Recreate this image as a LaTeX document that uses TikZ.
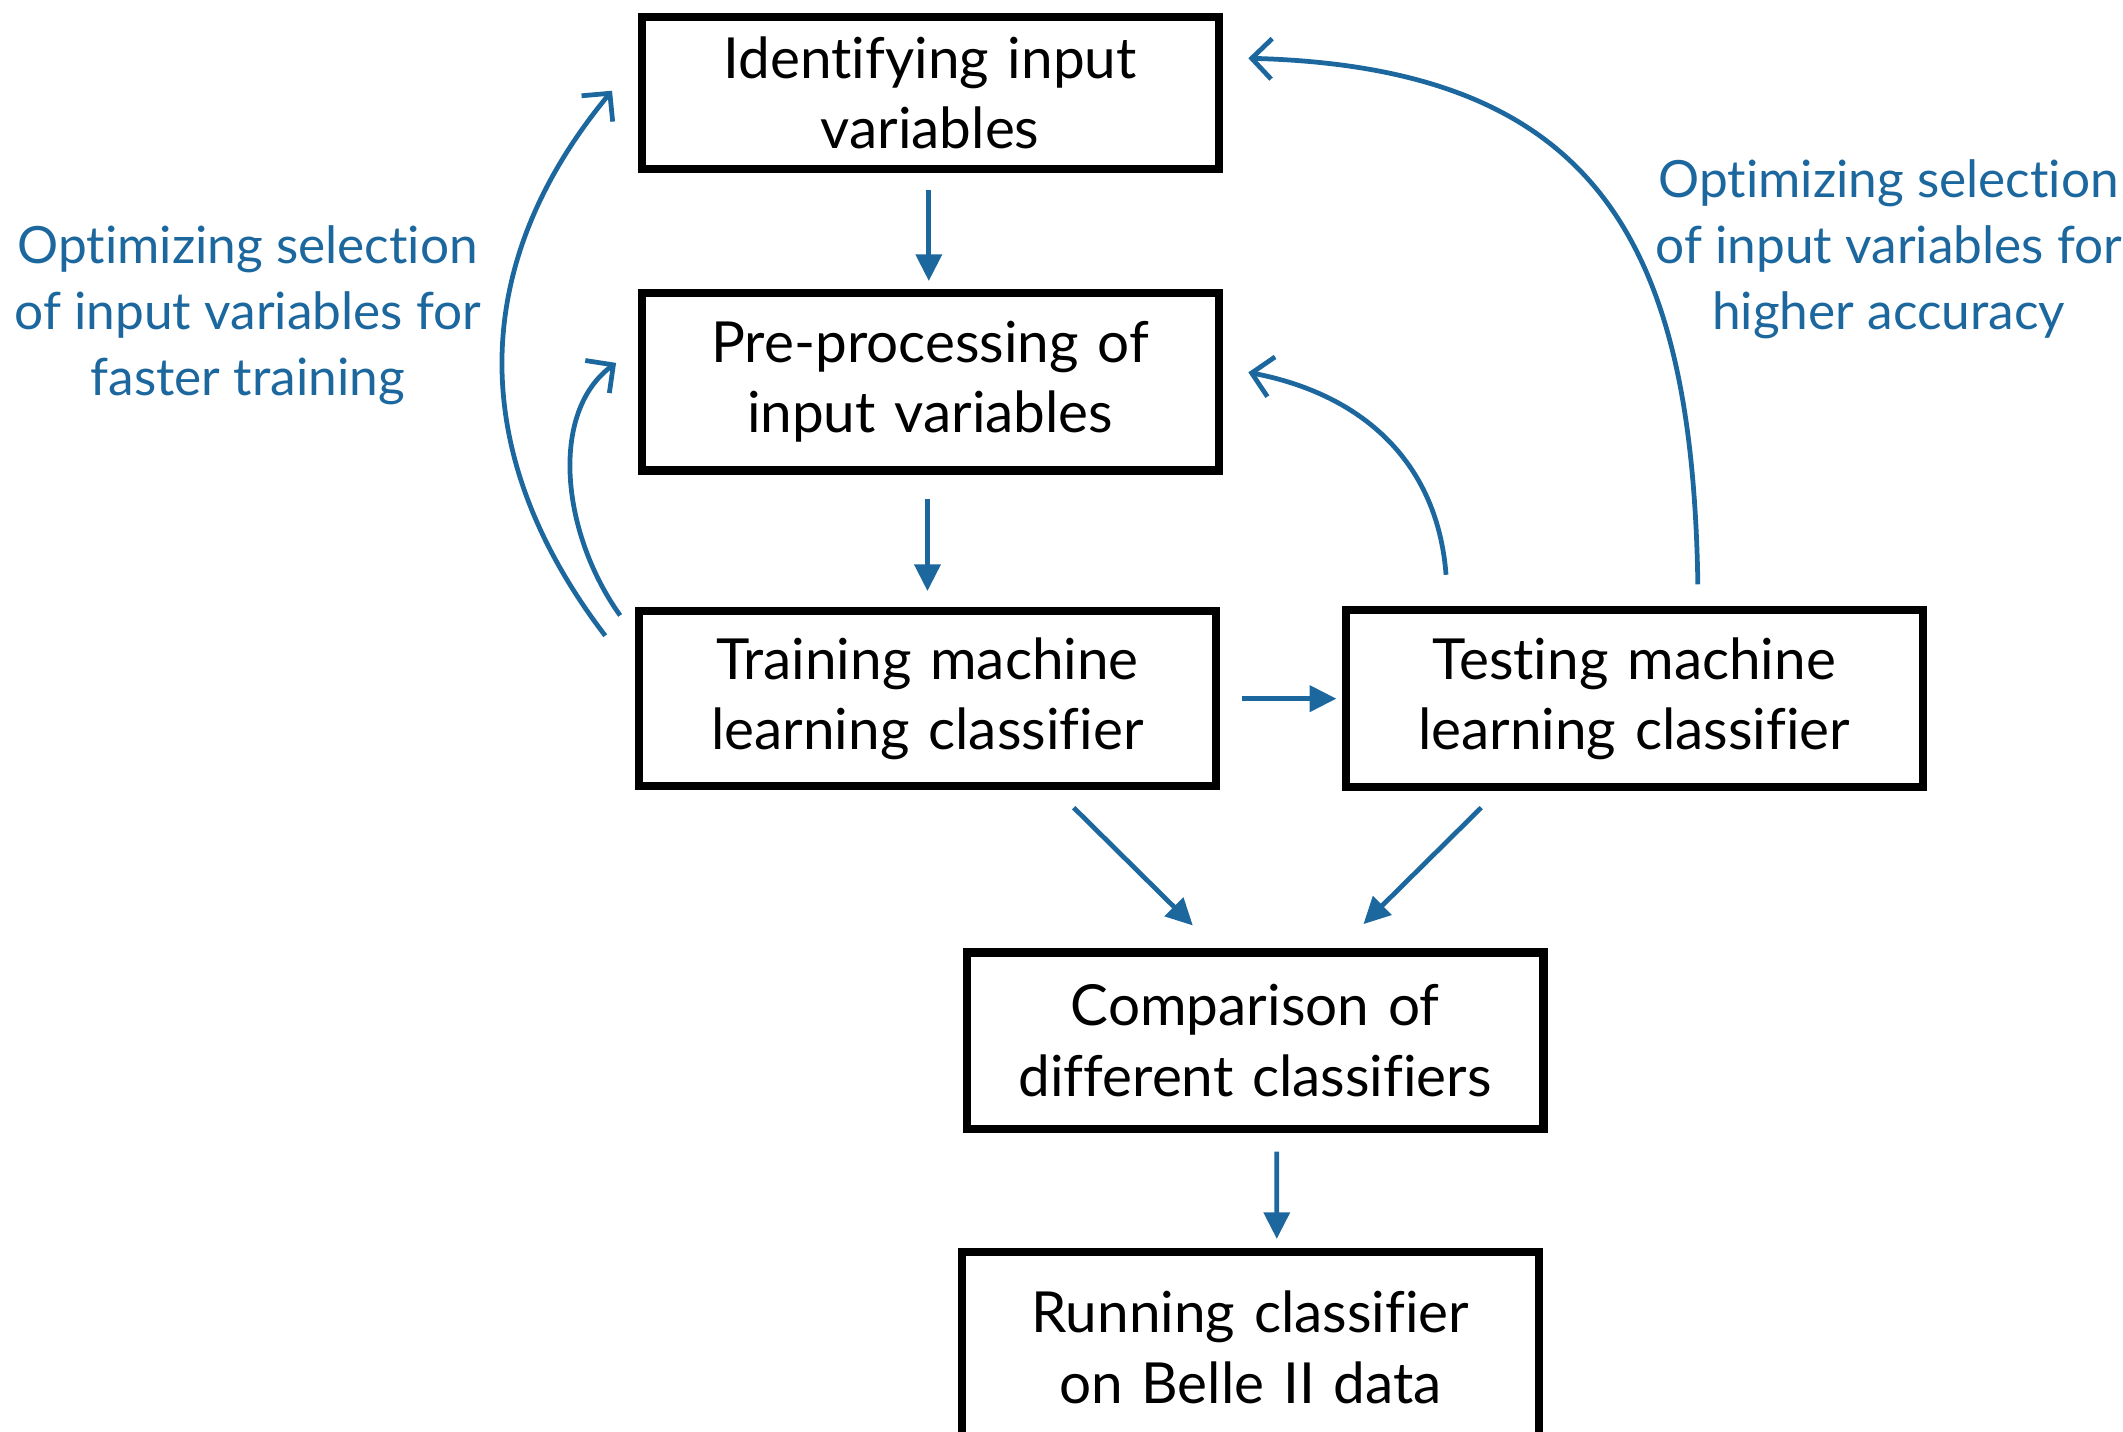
\documentclass[tikz,border=0pt]{standalone}
\usepackage{fontspec}
\setmainfont{Lato}[Ligatures={NoCommon}]
\usetikzlibrary{arrows.meta,calc}
\definecolor{flowblue}{RGB}{28,104,158}
\begin{document}
\begin{tikzpicture}[x=0.1mm,y=-0.1mm,
  stepbox/.style={draw=black,line width=1.7pt,rectangle,minimum width=42.6mm,
    minimum height=13mm,text width=40mm,align=center,inner sep=0pt,
    font=\fontsize{11.9}{14.8}\selectfont},
  flow/.style={draw=flowblue,line width=1pt,-{Triangle[length=5.6pt,width=5.4pt]}},
  loop/.style={draw=flowblue,line width=1pt,-{Straight Barb[length=4.2pt,width=8.5pt,line width=1pt]}},
  note/.style={text=flowblue,align=center,font=\fontsize{10.8}{13.9}\selectfont}]
\useasboundingbox (0,0) rectangle (1568,1057);

% process steps
\node[stepbox,minimum height=11.2mm] (id)    at (687,68.5) {Identifying input\\variables};
\node[stepbox,minimum height=13.1mm] (pre)   at (687,282)  {Pre-processing of\\input variables};
\node[stepbox,minimum height=12.9mm] (train) at (685,516)  {Training machine\\learning classifier};
\node[stepbox,minimum height=13.1mm] (test)  at (1207,516) {Testing machine\\learning classifier};
\node[stepbox,minimum height=13.0mm] (comp)  at (927,768.5){Comparison of\\different classifiers};
\node[stepbox,minimum height=14mm]   (run)   at (923.5,995){Running classifier\\on Belle II data};

% side notes
\node[note] (fast) at (183,233) {Optimizing selection\\of input variables for\\faster training};
\node[note] (acc)  at (1395,184) {Optimizing selection\\of input variables for\\higher accuracy};

% main flow
\draw[flow] ($(id.south)+(-1,13)$) -- ($(pre.north)+(-1,-6)$);
\draw[flow] ($(pre.south)+(-2,18)$) -- ($(train.north)+(0,-12)$);
\draw[flow] ($(train.east)+(16,0)$) -- ($(test.west)+(-4,0)$);
\draw[flow] ($(train.south)+(108,13)$) -- ($(comp.north)+(-46,-17)$);
\draw[flow] ($(test.south)+(-113,12)$) -- ($(comp.north)+(80,-18)$);
\draw[flow] ($(comp.south)+(16,14)$) -- ($(run.north)+(19.5,-7)$);

% feedback loops
\coordinate (lo0) at ($(train.north west)+(-22,21)$);
\coordinate (lo1) at ($(id.west)+(-19,-1.5)$);
\coordinate (li0) at ($(train.north west)+(-11,6)$);
\coordinate (li1) at ($(pre.west)+(-16,-14)$);
\coordinate (ri0) at ($(test.north west)+(77,-23)$);
\coordinate (ri1) at ($(pre.east)+(19,-7)$);
\coordinate (ro0) at ($(test.north)+(47,-16)$);
\coordinate (ro1) at ($(id.east)+(19,-25.5)$);
\draw[loop] (lo0) .. controls +(-107,-140) and +(-102,123) .. (lo1);
\draw[loop] (li0) .. controls +(-43,-60) and +(-50,37) .. (li1);
\draw[loop] (ri0) .. controls +(-6,-80) and +(88,17) .. (ri1);
\draw[loop] (ro0) .. controls +(-4,-252) and +(258,7) .. (ro1);
\end{tikzpicture}
\end{document}
